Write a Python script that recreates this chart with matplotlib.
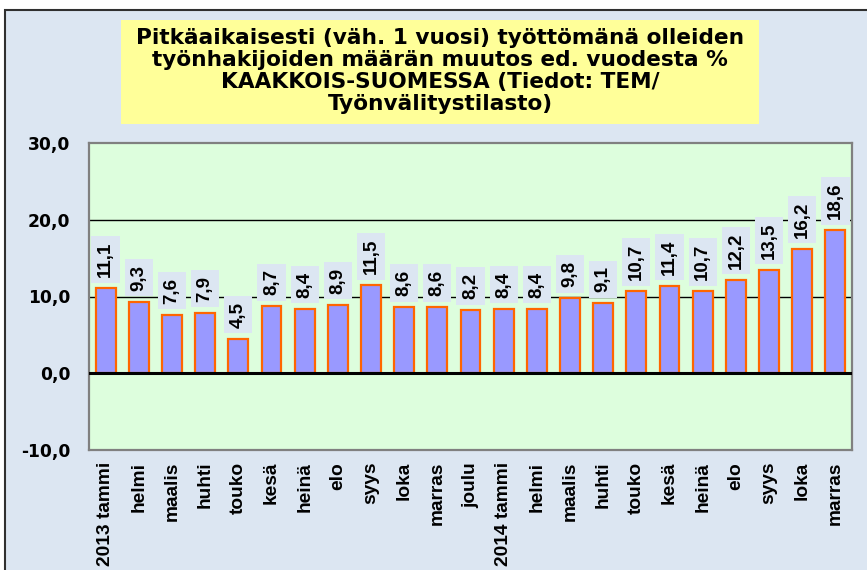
import matplotlib
matplotlib.use("Agg")
import matplotlib.pyplot as plt
from matplotlib.patches import Rectangle

categories = ["2013 tammi", "helmi", "maalis", "huhti", "touko", "kesä", "heinä",
              "elo", "syys", "loka", "marras", "joulu", "2014 tammi", "helmi",
              "maalis", "huhti", "touko", "kesä", "heinä", "elo", "syys", "loka",
              "marras"]
values = [11.1, 9.3, 7.6, 7.9, 4.5, 8.7, 8.4, 8.9, 11.5, 8.6, 8.6, 8.2,
          8.4, 8.4, 9.8, 9.1, 10.7, 11.4, 10.7, 12.2, 13.5, 16.2, 18.6]
yticks = [-10, 0, 10, 20, 30]
ytick_labels = ["-10,0", "0,0", "10,0", "20,0", "30,0"]
title_lines = ["Pitkäaikaisesti (väh. 1 vuosi) työttömänä olleiden",
               "työnhakijoiden määrän muutos ed. vuodesta %",
               "KAAKKOIS-SUOMESSA (Tiedot: TEM/",
               "Työnvälitystilasto)"]

W, H = 867, 570
fig = plt.figure(figsize=(W / 100, H / 100), dpi=100, facecolor="white")

def fx(px):
    return px / W

def fy(py):
    return 1 - py / H

# outer chart frame
fig.patches.append(Rectangle((fx(5), fy(575)), fx(870), 565 / H,
                             transform=fig.transFigure, facecolor="#DCE6F2",
                             edgecolor="#303030", linewidth=1.5, zorder=-2))

# title box
fig.patches.append(Rectangle((fx(121), fy(124)), fx(759 - 121), (124 - 20) / H,
                             transform=fig.transFigure, facecolor="#FFFF99",
                             edgecolor="none", zorder=-1))
fig.text(fx(440), fy(71), "\n".join(title_lines), ha="center", va="center",
         fontsize=15.6, fontweight="bold", family="DejaVu Sans",
         linespacing=1.12, zorder=2)

ax = fig.add_axes([fx(89), fy(450), fx(852 - 89), (450 - 143) / H])
ax.set_zorder(1)
ax.set_facecolor("#DDFEDD")
x = list(range(len(values)))
ax.bar(x, values, width=0.6, color="#9999FF", edgecolor="#FF6600",
       linewidth=1.6, zorder=3)
ax.set_xlim(-0.5, len(values) - 0.5)
ax.set_ylim(-10, 30)

for g in [10, 20]:
    ax.axhline(g, color="black", linewidth=1.0, zorder=1)
ax.axhline(0, color="black", linewidth=2.2, zorder=4)

for xi, v in zip(x, values):
    ax.annotate(f"{v:.1f}".replace(".", ","), (xi, v), xytext=(0, 8.0),
                textcoords="offset points", ha="center", va="bottom",
                rotation=90, fontsize=13.5, fontweight="bold",
                family="Liberation Sans", zorder=5,
                bbox=dict(boxstyle="square,pad=0.3", facecolor="#DCE6F2",
                          edgecolor="none"))

ax.set_yticks(yticks)
ax.set_yticklabels(ytick_labels, fontsize=12.3, fontweight="bold",
                   family="DejaVu Sans")
ax.tick_params(axis="y", length=0, pad=13.5)
ax.set_xticks(x)
ax.set_xticklabels(categories, rotation=90, fontsize=13.8, fontweight="bold",
                   family="Liberation Sans", va="top", ha="center")
ax.tick_params(axis="x", length=0, pad=8.5)
for s in ax.spines.values():
    s.set_color("#808080")
    s.set_linewidth(1.6)

fig.savefig("out.png", dpi=100, facecolor=fig.get_facecolor())
